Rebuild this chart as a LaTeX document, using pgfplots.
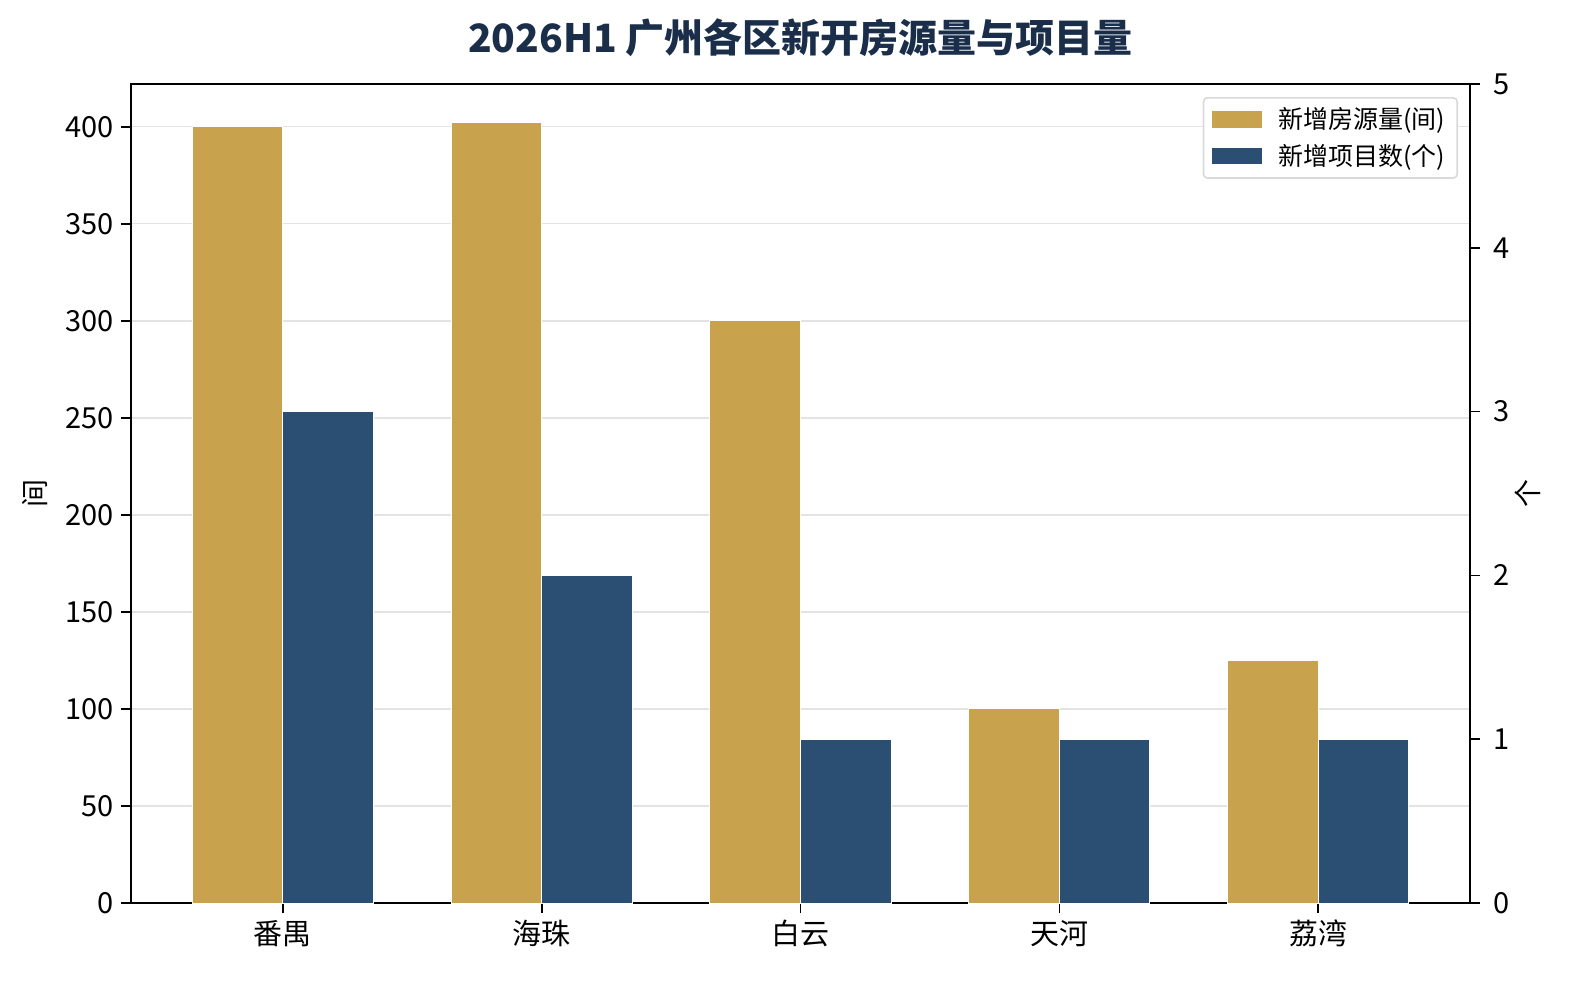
\documentclass[border=0pt]{standalone}
\usepackage{pgfplots}
\pgfplotsset{compat=1.18}
\usepackage{fontspec}
\setmainfont{Noto Sans CJK SC}
\definecolor{gold}{HTML}{C9A24D}
\definecolor{navy}{HTML}{2A4F72}
\definecolor{titlec}{HTML}{1A2E4A}
\definecolor{gridc}{HTML}{E3E3E3}
\begin{document}
\begin{tikzpicture}
\useasboundingbox (-65.5pt,-39pt) rectangle (725pt,451.5pt);
\pgfplotsset{
  common/.style={
    at={(0,0)}, anchor=south west,
    scale only axis, width=669.5pt, height=409.5pt,
    xmin=-0.587, xmax=4.587, ymin=0,
    tick align=outside, major tick length=5pt,
    axis line style={line width=0.9pt, black},
    tick style={line width=0.8pt, black},
    tick label style={font=\fontsize{14.5}{17}\selectfont},
    label style={font=\fontsize{14}{17}\selectfont},
    /pgf/number format/assume math mode=true,
    ybar, bar width=0.35,
  }
}
\begin{axis}[common,
  ymax=422.1,
  xtick={0,1,2,3,4}, xticklabels={番禺,海珠,白云,天河,荔湾},
  ytick={0,50,...,400},
  tick pos=left,
  ymajorgrids, grid style={gridc, line width=0.6pt},
  ylabel={间},
  ylabel style={at={(axis description cs:-0.0717,0.5)}, anchor=center},
]
\addplot[fill=gold, draw=white, line width=0.5pt, bar shift=-0.175] coordinates {(0,400) (1,402) (2,300) (3,100) (4,125)};
\end{axis}
\begin{axis}[common,
  ymax=5,
  axis x line=none, axis y line*=right,
  ytick={0,1,2,3,4,5},
  yticklabel style={xshift=3pt},
  ylabel={个},
  ylabel style={at={(axis description cs:1.0433,0.5)}, anchor=center},
  legend style={at={(1,1)}, anchor=north east, xshift=-6pt, yshift=-6.5pt,
    draw=black!15, line width=0.8pt, rounded corners=2pt,
    font=\fontsize{12.5}{15}\selectfont, inner xsep=4pt, inner ysep=3pt,
    row sep=2pt,
    legend cell align=left},
  legend image code/.code={\fill[#1, draw=none, sharp corners] (0pt,-4.2pt) rectangle (25pt,4.2pt); \path (31pt,0pt);},
]
\addlegendimage{fill=gold}
\addlegendentry{新增房源量(间)}
\addplot[fill=navy, draw=white, line width=0.5pt, bar shift=0.175] coordinates {(0,3) (1,2) (2,1) (3,1) (4,1)};
\addlegendentry{新增项目数(个)}
\end{axis}
\node[font=\bfseries\fontsize{19.5}{24}\selectfont, text=titlec] at (334.75pt,432.5pt) {2026H1 广州各区新开房源量与项目量};
\end{tikzpicture}
\end{document}
